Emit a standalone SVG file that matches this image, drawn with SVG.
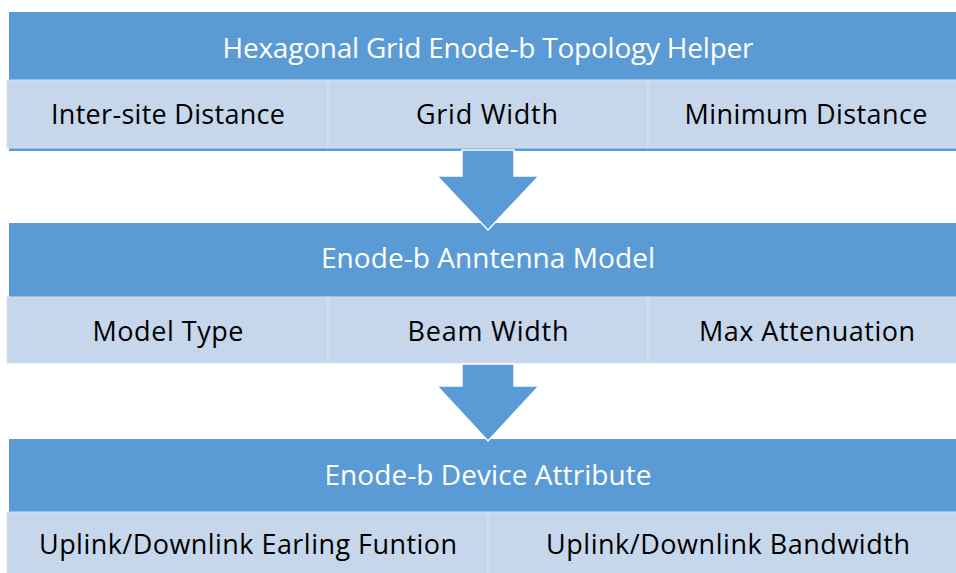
<svg xmlns="http://www.w3.org/2000/svg" width="956" height="573" viewBox="0 0 956 573">
  <style>
    .band { fill: #5B9BD5; }
    .cell { fill: #C6D7EC; stroke: #D5E2F2; stroke-width: 1; }
    .arrow { fill: #5B9BD5; stroke: #FFFFFF; stroke-width: 1.5; stroke-linejoin: miter; }
    .title { font-family: "Open Sans", "Noto Sans", sans-serif; font-size: 28px; fill: #FFFFFF; text-anchor: middle; }
    .item { font-family: "Open Sans", "Noto Sans", sans-serif; font-size: 27px; fill: #000000; text-anchor: middle; }
  </style>
  <rect width="956" height="573" fill="#FFFFFF"/>

  <!-- Stage 1: topology helper -->
  <g id="topology-helper">
    <rect class="band" x="9" y="12" width="947" height="139"/>
    <text class="title" x="488" y="58" textLength="531">Hexagonal Grid Enode-b Topology Helper</text>
    <g id="inter-site-distance">
      <rect class="cell" x="7" y="80" width="321" height="68"/>
      <text class="item" x="168" y="124" textLength="234">Inter-site Distance</text>
    </g>
    <g id="grid-width">
      <rect class="cell" x="328" y="80" width="320" height="68"/>
      <text class="item" x="487" y="124" textLength="142">Grid Width</text>
    </g>
    <g id="minimum-distance">
      <rect class="cell" x="648" y="80" width="318" height="68"/>
      <text class="item" x="806" y="124" textLength="243">Minimum Distance</text>
    </g>
  </g>

  <!-- Stage 2: antenna model -->
  <g id="antenna-model">
    <rect class="band" x="9" y="223" width="947" height="140"/>
    <text class="title" x="488" y="268" textLength="334">Enode-b Anntenna Model</text>
    <g id="model-type">
      <rect class="cell" x="7" y="297" width="321" height="66"/>
      <text class="item" x="168" y="341" textLength="151">Model Type</text>
    </g>
    <g id="beam-width">
      <rect class="cell" x="328" y="297" width="320" height="66"/>
      <text class="item" x="488" y="341" textLength="161">Beam Width</text>
    </g>
    <g id="max-attenuation">
      <rect class="cell" x="648" y="297" width="318" height="66"/>
      <text class="item" x="807" y="341" textLength="216">Max Attenuation</text>
    </g>
  </g>

  <!-- Stage 3: device attribute -->
  <g id="device-attribute">
    <rect class="band" x="9" y="439" width="947" height="134"/>
    <text class="title" x="488" y="485" textLength="327">Enode-b Device Attribute</text>
    <g id="earling-function">
      <rect class="cell" x="7" y="512" width="481" height="66"/>
      <text class="item" x="248" y="554" textLength="418">Uplink/Downlink Earling Funtion</text>
    </g>
    <g id="bandwidth">
      <rect class="cell" x="488" y="512" width="478" height="66"/>
      <text class="item" x="728" y="554" textLength="364">Uplink/Downlink Bandwidth</text>
    </g>
  </g>

  <!-- Flow arrows between stages -->
  <g id="connectors">
    <polygon class="arrow" points="462,150 514,150 514,176 539,176 488,230 437,176 462,176"/>
    <polygon class="arrow" points="462,364 514,364 514,386 539,386 488,441 437,386 462,386"/>
  </g>
</svg>
